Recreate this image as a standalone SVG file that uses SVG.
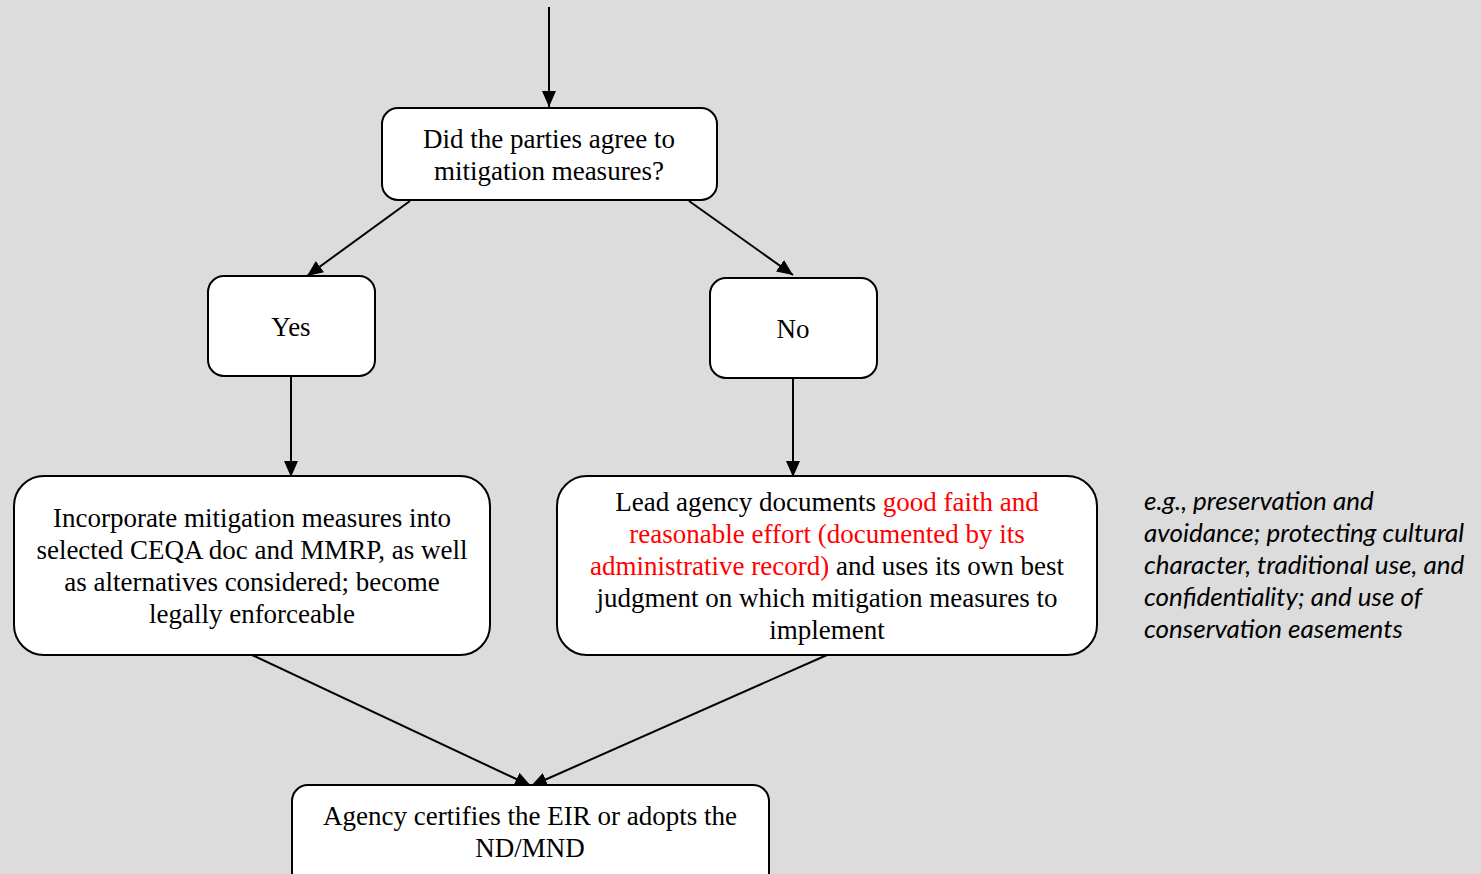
<svg xmlns="http://www.w3.org/2000/svg" width="1481" height="874" viewBox="0 0 1481 874">
  <defs>
    <marker id="arrow" markerUnits="userSpaceOnUse" markerWidth="16" markerHeight="16" viewBox="0 0 16 16" refX="16" refY="8" orient="auto">
      <path d="M0,1 L16,8 L0,15 Z" fill="#000"/>
    </marker>
  </defs>
  <style>
    .box { fill: #fff; stroke: #000; stroke-width: 2; }
    .lbl { font-family: "Liberation Serif", "Times New Roman", serif; font-size: 27px; fill: #000; text-anchor: middle; }
    .red { fill: #ff0000; }
    .note { font-family: "Lato", "Open Sans", sans-serif; font-style: italic; font-size: 26px; fill: #000; }
    .edge { stroke: #000; stroke-width: 2; fill: none; marker-end: url(#arrow); }
  </style>
  <rect width="1481" height="874" fill="#dcdcdc"/>

  <g id="connectors">
    <line class="edge" x1="549" y1="7" x2="549" y2="107"/>
    <line class="edge" x1="410" y1="201" x2="307" y2="276"/>
    <line class="edge" x1="689" y1="201" x2="793" y2="275"/>
    <line class="edge" x1="291" y1="376" x2="291" y2="477"/>
    <line class="edge" x1="793" y1="378" x2="793" y2="477"/>
    <line class="edge" x1="252" y1="655" x2="531" y2="786"/>
    <line class="edge" x1="827" y1="655" x2="531" y2="786"/>
  </g>

  <g id="question">
    <rect class="box" x="382" y="108" width="335" height="92" rx="16"/>
    <text class="lbl" x="549" y="148">Did the parties agree to</text>
    <text class="lbl" x="549" y="180">mitigation measures?</text>
  </g>

  <g id="yes">
    <rect class="box" x="208" y="276" width="167" height="100" rx="16"/>
    <text class="lbl" x="291" y="336">Yes</text>
  </g>

  <g id="no">
    <rect class="box" x="710" y="278" width="167" height="100" rx="16"/>
    <text class="lbl" x="793" y="338">No</text>
  </g>

  <g id="incorporate">
    <rect class="box" x="14" y="476" width="476" height="179" rx="30"/>
    <text class="lbl" x="252" y="527">Incorporate mitigation measures into</text>
    <text class="lbl" x="252" y="559">selected CEQA doc and MMRP, as well</text>
    <text class="lbl" x="252" y="591">as alternatives considered; become</text>
    <text class="lbl" x="252" y="623">legally enforceable</text>
  </g>

  <g id="lead-agency">
    <rect class="box" x="557" y="476" width="540" height="179" rx="30"/>
    <text class="lbl" x="827" y="511">Lead agency documents <tspan class="red">good faith and</tspan></text>
    <text class="lbl red" x="827" y="543">reasonable effort (documented by its</text>
    <text class="lbl" x="827" y="575"><tspan class="red">administrative record)</tspan> and uses its own best</text>
    <text class="lbl" x="827" y="607">judgment on which mitigation measures to</text>
    <text class="lbl" x="827" y="639">implement</text>
  </g>

  <g id="certify">
    <rect class="box" x="292" y="785" width="477" height="110" rx="16"/>
    <text class="lbl" x="530" y="825">Agency certifies the EIR or adopts the</text>
    <text class="lbl" x="530" y="857">ND/MND</text>
  </g>

  <g id="examples">
    <text class="note" x="1144" y="510">e.g., preservation and</text>
    <text class="note" x="1144" y="542">avoidance; protecting cultural</text>
    <text class="note" x="1144" y="574">character, traditional use, and</text>
    <text class="note" x="1144" y="606">confidentiality; and use of</text>
    <text class="note" x="1144" y="638">conservation easements</text>
  </g>
</svg>
